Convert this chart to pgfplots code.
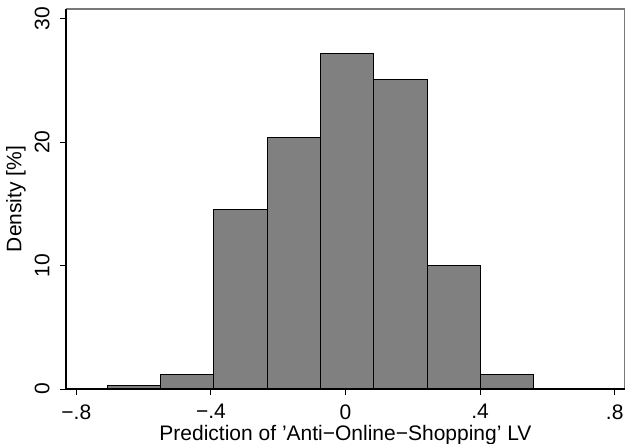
\documentclass[border=0pt]{standalone}
\usepackage{fontspec}
\setmainfont{Liberation Sans}
\usepackage{pgfplots}
\pgfplotsset{compat=1.18}
\definecolor{bargray}{RGB}{128,128,128}
\definecolor{framegray}{RGB}{120,120,120}
\begin{document}
\begin{tikzpicture}
\begin{axis}[
  name=ax,
  scale only axis,
  width=279.5pt, height=190pt,
  xmin=-0.8306, xmax=0.8306,
  ymin=0, ymax=30.8,
  axis line style={draw=none},
  tick style={black, line width=0.5pt},
  tick align=outside,
  major tick length=3pt,
  xtick={-0.8,-0.4,0,0.4,0.8},
  xticklabels={−.8,−.4,0,.4,.8},
  ytick={0,10,20,30},
  yticklabels={0,10,20,30},
  xtick pos=bottom, ytick pos=left,
  font=\fontsize{10.5pt}{12pt}\selectfont,
  xticklabel style={anchor=north, inner sep=0pt, yshift=-4.5pt},
  yticklabel style={xshift=-5pt, rotate=90, anchor=south, inner sep=0pt},
  every axis x label/.style={at={(axis description cs:0.5,0)}, anchor=base, yshift=-25.5pt},
  every axis y label/.style={at={(axis description cs:0,0.5)}, xshift=-25pt, rotate=90, anchor=center},
  xlabel={Prediction of ’Anti−Online−Shopping’ LV},
  ylabel={Density [\%]},
  clip=false,
]
\addplot[ybar interval, fill=bargray, draw=black, line width=0.5pt] coordinates {
  (-0.708,0.29) (-0.5495,1.18) (-0.391,14.53) (-0.2325,20.39) (-0.074,27.2)
  (0.0845,25.07) (0.243,10.05) (0.4015,1.16) (0.56,0)
};
\draw[framegray, line width=0.6pt] (rel axis cs:0,1) -- (rel axis cs:1,1) -- (rel axis cs:1,0);
\draw[black, line width=0.6pt] (rel axis cs:0,1) -- (rel axis cs:0,0) -- (rel axis cs:1,0);
\end{axis}
\pgfresetboundingbox
\path[use as bounding box] ([xshift=-33pt,yshift=-27.35pt]ax.south west) rectangle ([yshift=4.5pt]ax.north east);
\end{tikzpicture}
\end{document}
